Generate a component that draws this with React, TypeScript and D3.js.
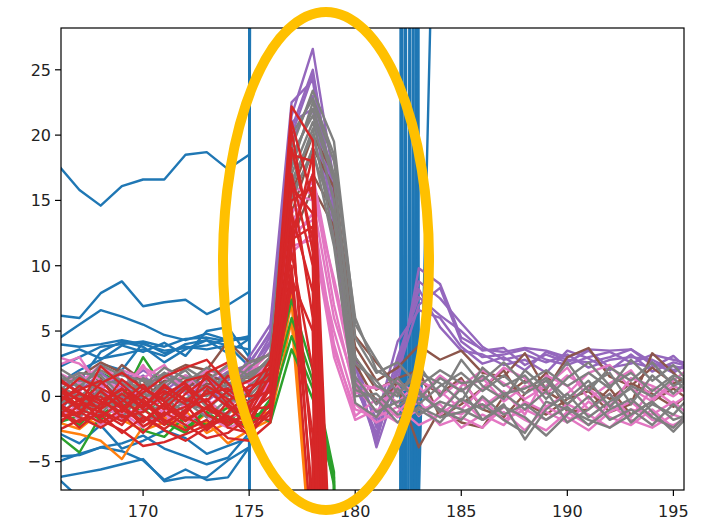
import React from "react";
import * as d3 from "d3";

// x index of first value in every series
const START = 166;

const xTicks = [170, 175, 180, 185, 190, 195];
const yTicks = [-5, 0, 5, 10, 15, 20, 25];

// tab:blue – values 166..184 (off-scale values between 176 and 184)
const blueSeries: number[][] = [
  [17.7, 15.8, 14.6, 16.1, 16.6, 16.6, 18.5, 18.7, 17.4, 18.5, 900, 950, 1000, 980, 950, 920, 900, -300, -900],
  [6.2, 6.0, 7.9, 8.8, 6.9, 7.2, 7.4, 6.3, 7.0, 8.0, 800, 850, 900, 870, 820, 800, 600, -900, -950],
  [4.4, 5.5, 6.6, 6.1, 5.5, 4.7, 4.3, 4.8, 4.3, 4.4, -800, -850, -900, -870, -820, -760, -700, 300, 900],
  [2.2, 3.0, 3.8, 4.0, 4.2, 3.8, 4.4, 4.5, 4.2, 4.6, 800, 880, 920, 900, 950, 1000, 1000, -120, -900],
  [1.0, 2.0, 2.8, 3.9, 3.4, 4.1, 3.1, 5.0, 5.3, 3.0, -900, -950, -880, -800, -700, -500, -400, 800, 900],
  [-1.2, 0.6, 2.5, 2.0, 4.1, 3.3, 3.8, 3.6, 3.9, 2.3, 900, 850, 800, 700, 500, 400, 300, -900, -900],
  [-5.0, -4.4, -3.9, -3.6, -3.0, -4.0, -4.6, -5.2, -4.7, -2.8, -900, -850, -700, -500, -300, -200, -150, 1000, 900],
  [-6.2, -5.9, -5.6, -5.2, -4.8, -6.5, -6.2, -6.2, -4.9, -3.9, 900, 950, 900, 880, 850, 820, 800, -500, -900],
  [-6.3, -7.8, -8.5, -8.8, -8.6, -8.9, -8.0, -8.2, -7.9, -7.5, -900, -950, -920, -900, -900, -900, -900, 200, 900],
  [3.0, 3.6, 2.9, 3.2, 3.6, 3.1, 4.0, 4.3, 3.3, 4.4, 800, 700, 600, 500, 400, 300, 200, -1000, -900],
  [-4.6, -4.5, -3.9, -4.2, -4.9, -6.4, -5.6, -6.4, -6.2, -3.9, -800, -900, -950, -900, -800, -600, -550, 500, 900],
  [4.0, 3.8, 4.0, 4.3, 4.0, 3.5, 3.7, 3.9, 4.4, 4.5, 900, 1000, 1100, 1200, 1300, 1400, 1500, -8, 60],
  [0.2, 1.2, 3.4, 4.2, 3.8, 2.6, 3.6, 4.3, 3.9, 3.6, 700, 650, 600, 550, 520, 500, 500, -700, -900],
  [-2.8, -3.6, -2.2, -4.0, -3.4, -2.6, -3.2, -4.4, -3.8, -3.2, -900, -950, -1000, -1000, -1000, -1000, -1000, 60, 900],
];

// tab:orange – values 166..179
const orangeSeries: number[][] = [
  [-2.6, -2.9, -3.4, -4.8, -2.3, -1.6, -2.4, -2.0, -3.6, -2.6, -1.8, 5.8, -14, -500],
  [-2.0, -2.5, -1.2, -1.8, -2.6, -2.0, -1.1, -2.8, -2.0, -1.5, -1.2, 7.2, -13, -500],
  [-1.0, -1.6, -2.2, -1.0, -0.5, -1.8, -2.6, -1.3, -0.9, -2.2, -0.5, 8.0, -12, -500],
];

// tab:green – values 166..180
const greenSeries: number[][] = [
  [-3.0, -4.3, -1.5, -0.2, 3.0, 0.6, -2.4, -1.2, -2.3, -1.0, -2.0, 3.6, -0.2, -6.5, -500],
  [-2.0, -1.5, 1.8, 1.0, -2.6, -3.1, -1.5, -2.2, -0.8, -1.8, -0.8, 4.6, 0.6, -6.8, -500],
  [-1.2, -2.2, -0.5, -1.6, -1.0, -2.0, -2.8, -0.8, -1.5, -2.4, -0.2, 6.0, 1.2, -6.2, -500],
  [0.5, -0.8, -1.8, -0.5, -1.2, -0.2, 0.8, -1.6, -2.0, -0.5, 0.5, 7.4, 2.0, -5.8, -500],
];

// tab:red – values 166..179
const redSeries: number[][] = [
  [0.5, -0.8, 2.3, 0.9, -0.5, -1.5, 0.2, 1.4, -0.6, -1.8, 0.8, 22.2, 19.6, -20],
  [-1.5, -0.2, -1.8, -2.6, -3.8, -3.5, -2.9, -2.2, -1.5, -3.0, -1.0, 21.0, 15.0, -40],
  [-0.5, 0.8, -0.4, -1.2, 0.3, 1.5, 2.2, 2.8, 1.0, -0.8, 1.5, 20.3, 11.0, -45],
  [-1.2, -2.0, -0.6, 0.6, -1.0, -2.2, -1.0, -0.2, -2.4, -2.8, -0.5, 18.5, 18.0, -25],
  [0.2, -1.0, -1.6, -0.4, 0.9, -0.8, -1.9, -0.9, 0.4, 1.2, 2.2, 17.0, 10.0, -60],
  [-1.9, -1.2, 0.4, -0.8, -1.9, -0.5, 0.8, -1.4, -2.2, -1.2, 0.0, 16.0, 14.0, -35],
  [1.2, 0.3, -1.1, -1.9, -0.6, 0.4, -0.6, -2.6, -1.2, 0.2, 2.8, 15.0, 16.0, -30],
  [-0.8, -1.6, -2.4, -1.4, -2.8, -1.2, -2.2, -3.2, -2.8, -1.6, -1.8, 14.0, 8.0, -50],
  [0.0, 1.4, 0.6, -0.2, -1.5, -2.5, -1.3, 0.5, -0.8, -2.2, 1.0, 13.0, -5.0, -1000],
  [-2.2, -0.6, -1.2, -2.2, -0.2, -1.8, -2.6, -1.8, -3.2, -3.4, -2.0, 9.5, -12.0, -1000],
  [0.8, -0.4, -0.9, 1.3, 0.0, -1.0, 0.6, -0.4, 1.6, 0.4, 1.8, 12.0, 13.0, -40],
  [-1.0, -2.4, -1.0, 0.2, -0.9, 0.7, -0.2, -1.0, -1.8, -0.4, 0.5, 11.0, 2.0, -100],
  [-0.3, 0.5, 1.2, -0.6, -2.3, -1.4, -0.8, 0.2, 0.6, -1.0, -0.8, 10.0, -8.0, -1000],
  [-1.6, -1.2, -2.0, -1.0, 0.6, -0.4, -1.6, -2.4, -0.4, 0.8, 1.2, 9.0, 5.0, -80],
  [0.4, -0.2, 0.0, -1.6, -1.2, 0.2, 1.0, -0.6, -1.6, -2.6, -1.4, 8.5, -3.0, -1000],
  [-0.9, 0.2, -0.3, 0.5, -0.4, -2.0, -1.2, 1.8, 2.6, 0.0, 0.3, 12.5, 17.0, -28],
  [-0.6, -1.4, 0.4, -1.0, -2.0, -0.6, -1.8, -0.8, -2.0, -1.4, 1.6, 19.0, 12.0, -35],
  [1.4, 0.2, -0.6, 0.6, -0.8, 0.9, -0.4, 0.8, -0.2, -2.0, 0.6, 16.5, 6.0, -70],
  [-2.6, -1.8, -1.4, -2.8, -1.6, -2.6, -3.4, -2.4, -1.6, -2.2, -1.2, 11.5, 18.5, -22],
  [0.0, -0.6, 1.0, 1.8, 0.6, -0.2, 1.2, 1.6, 0.2, -1.0, 2.4, 14.5, -10.0, -1000],
];

// tab:purple – values 166..196
const purpleSeries: number[][] = [
  [0.8, 1.5, 0.5, 1.8, 1.2, 0.4, 1.6, 0.8, 1.9, 2.4, 5.0, 21.5, 26.6, 16.5, 2.5, -3.9, 1.0, 9.8, 8.6, 4.5, 3.6, 3.4, 3.7, 3.5, 3.0, 3.6, 3.5, 3.6, 2.4, 2.3, 2.0],
  [-0.5, 0.6, 1.2, -0.2, 0.8, 1.6, 0.2, -0.4, 0.9, 1.8, 4.6, 20.5, 25.0, 15.0, 1.5, -3.2, 2.0, 8.8, 7.5, 5.6, 3.8, 2.8, 3.2, 2.6, 3.2, 2.2, 2.8, 3.0, 2.8, 2.0, 2.6],
  [1.6, 0.2, -0.6, 0.8, 2.0, 1.0, -0.4, 1.4, 0.2, 3.0, 5.5, 22.5, 24.2, 14.0, 3.0, -2.4, 3.0, 7.6, 6.2, 5.0, 3.5, 3.7, 2.4, 3.2, 2.6, 3.5, 2.2, 2.5, 3.2, 2.8, 2.4],
  [0.2, -0.8, 0.9, 1.2, -0.6, -0.2, 1.0, 0.6, -0.5, 2.0, 4.2, 19.5, 23.0, 13.0, 0.8, -2.8, 1.8, 7.0, 8.3, 4.2, 3.0, 3.2, 3.6, 2.8, 2.4, 3.0, 3.4, 2.6, 2.2, 3.1, 1.6],
  [1.0, 1.8, 0.4, -0.4, 0.4, 1.8, 0.8, 1.6, 1.2, 2.6, 4.8, 21.0, 22.0, 12.0, 2.2, -1.8, 4.2, 6.6, 6.0, 3.8, 2.5, 3.0, 2.0, 3.4, 2.8, 2.6, 3.0, 3.6, 2.6, 1.8, 2.8],
  [-0.2, 0.4, 1.8, 0.6, 1.6, 0.2, -0.8, 0.2, 1.6, 1.4, 4.0, 20.0, 24.6, 15.5, 1.2, -3.5, 2.6, 8.2, 5.3, 3.5, 3.2, 2.4, 2.8, 1.8, 3.5, 2.9, 2.0, 3.2, 1.9, 2.6, 2.2],
];

// tab:brown – values 166..196
const brownSeries: number[][] = [
  [1.0, 1.5, 2.6, 1.8, 0.8, 1.6, 2.4, 2.0, 4.2, 2.6, 3.2, 14.0, 19.0, 16.0, 4.6, 2.6, 0.7, -3.9, -1.0, -2.0, -2.4, 0.0, 1.2, 0.4, -0.6, 0.8, -0.2, 1.0, 0.2, -0.8, 0.6],
  [0.0, -0.8, 0.6, 2.4, 1.2, -0.4, 0.5, 1.8, 0.9, 1.5, 2.5, 13.0, 17.0, 14.0, 3.8, 1.2, 2.2, 3.9, 2.8, 3.5, 1.8, 1.5, 3.3, 0.5, 3.0, 3.7, 1.5, 0.8, 2.2, 1.0, 1.6],
  [-0.6, 0.2, -1.0, 0.4, -0.2, 1.2, 1.4, 0.6, -0.8, 0.4, 2.0, 15.5, 20.0, 17.0, 3.0, 0.5, 1.4, 2.0, -1.6, -0.6, 0.6, 2.0, -0.5, -1.4, -0.2, 0.4, -1.2, -0.6, 3.3, 1.8, 0.2],
  [0.6, -0.3, 1.4, -0.6, 0.4, 0.2, -0.6, 1.0, 0.4, -0.4, 1.6, 12.0, 16.0, 13.0, 2.5, -0.4, 0.8, 1.2, 0.2, 1.4, -1.0, -1.6, 0.2, 1.8, -1.2, -1.0, 0.6, -1.4, -0.4, 0.6, -0.6],
];

// tab:pink – values 166..196
const pinkSeries: number[][] = [
  [3.0, 2.5, 1.2, 0.6, 2.2, 1.4, 0.8, 2.0, 1.5, 1.0, 2.8, 14.0, 16.5, 7.0, 0.2, 0.8, -0.5, 1.2, 0.4, -1.0, 0.6, 2.2, 1.4, -0.8, 0.2, 1.8, 2.4, 0.6, -0.4, 1.2, 2.5],
  [-0.8, 0.4, -1.6, -0.6, 0.5, -1.4, -2.2, -0.8, 0.4, -0.6, 1.5, 12.0, 14.0, 4.0, -1.5, -0.2, -1.6, -0.4, -2.2, -1.6, -2.4, -0.8, -1.8, -2.6, -1.2, -2.2, -0.6, -1.8, -2.4, -1.4, -2.0],
  [1.8, 1.0, 2.4, 1.2, -0.2, 0.8, 1.6, 0.4, -0.8, 0.6, 2.2, 15.5, 15.0, 6.0, 0.8, -1.2, 0.8, -1.5, 0.0, 1.2, -0.8, 0.4, -1.4, 1.6, 0.8, -1.0, 0.2, -1.6, 0.6, -0.6, 0.4],
  [0.2, -1.2, -0.4, -1.8, -1.0, -0.2, 0.6, -1.6, -2.4, -1.8, 1.0, 11.0, 12.5, 3.0, -1.8, -1.0, -2.0, -1.0, -0.6, -2.4, -1.4, -2.2, -0.4, -1.2, -2.0, -0.4, -1.6, -2.2, -1.0, -2.4, -0.8],
  [2.4, 3.0, 0.6, 2.0, 1.4, 2.4, 0.2, 1.2, 2.2, 1.8, 3.4, 13.0, 17.0, 8.5, 1.0, 0.6, 1.2, 0.0, 1.6, 0.4, 1.4, -0.4, 0.8, 0.2, 1.6, 0.6, -0.8, 1.4, 0.8, 0.0, 1.2],
  [-1.6, -0.6, -2.2, -1.2, -2.4, -1.0, -1.4, -2.6, -1.2, -0.4, 0.6, 12.5, 13.5, 3.5, -1.0, -1.6, -0.8, -2.2, -1.4, -0.2, -1.8, -1.2, -2.6, -0.8, -1.6, -2.6, -1.2, -0.4, -1.8, -2.2, -1.4],
  [0.8, 1.8, -0.2, 0.4, 2.4, 0.0, -0.8, 0.8, 0.6, 2.4, 2.0, 16.0, 15.5, 9.0, 1.5, -0.6, 0.4, 0.8, -1.2, 0.8, 2.0, 1.0, -0.2, 0.8, 2.2, -0.2, 1.0, 2.0, -0.2, 0.8, 0.0],
  [-0.4, -1.8, 0.8, -0.8, -1.6, -2.0, -0.6, -0.2, -1.6, -1.2, 1.2, 11.5, 12.0, 5.0, -0.6, -2.0, -1.2, 0.4, -1.0, -1.4, -0.2, -1.8, -1.0, -1.8, -0.6, -1.4, -2.4, -1.0, -1.4, -0.4, -1.8],
];

// tab:gray – values 166..196
const graySeries: number[][] = [
  [1.5, 0.8, 2.0, 1.2, 0.6, 1.8, 1.0, 2.2, 1.4, 2.6, 3.2, 19.0, 23.4, 19.5, 5.5, 2.8, 0.2, 1.8, 1.0, -0.4, 2.2, 0.8, 1.6, -0.2, 1.4, 2.6, 0.8, 1.8, 0.4, 1.6, 1.0],
  [0.4, 1.6, 0.2, -0.6, 1.4, 0.4, -0.2, 0.8, 0.0, 1.8, 2.6, 18.0, 22.0, 17.0, 2.5, 1.2, -0.8, 0.4, -1.2, 0.6, -1.8, -0.6, -3.3, -1.0, 0.2, -1.6, -0.4, 0.6, -1.2, -2.7, -1.0],
  [2.2, 1.2, 1.0, 2.0, -0.2, 1.0, 2.0, 0.2, 1.8, 1.4, 3.0, 17.0, 21.0, 15.0, 1.5, -0.6, 1.4, -0.6, 0.8, 1.8, 0.4, 1.6, 0.2, 1.2, -0.6, 0.8, 1.8, -0.6, 1.6, 0.2, 1.8],
  [-0.6, 0.2, -1.4, 0.6, -1.0, -0.8, 0.8, -0.8, -1.4, 0.4, 2.0, 16.0, 20.5, 12.0, -0.5, -1.6, 0.6, -1.4, -0.4, -1.0, -1.8, -0.8, -1.6, -3.0, -1.4, 0.0, -1.8, -1.0, -2.2, -0.6, -2.2],
  [1.0, 1.8, 1.6, 0.0, 0.8, 2.2, 1.4, 1.6, 0.6, 2.2, 3.3, 20.0, 22.8, 18.5, 4.5, 1.8, 2.6, 0.8, 2.0, 1.0, 1.2, 2.6, 1.0, 2.0, 0.8, 1.8, 0.6, 2.8, 1.2, 2.4, 0.6],
  [0.0, -1.0, 0.6, -1.6, 0.2, -0.2, -1.2, 0.4, -0.6, 0.8, 2.2, 15.0, 19.0, 11.5, 0.0, 0.2, -1.4, -1.0, -2.0, -0.2, -1.0, 0.2, -1.0, 0.4, -2.0, -1.0, 0.2, -2.0, -0.6, -1.4, 0.4],
  [1.8, 0.6, 2.4, 1.6, 1.2, 0.6, 2.2, 1.2, 2.4, 1.6, 2.8, 18.5, 21.5, 16.5, 3.0, 0.8, 0.0, 2.4, 0.0, 2.8, 0.8, -0.2, 2.0, 0.6, 2.6, 0.4, 2.2, 1.2, 2.6, 0.8, 1.6],
  [-1.4, -0.2, -0.8, 0.2, -1.8, -1.4, -0.4, -1.6, -0.2, -0.6, 1.6, 16.5, 20.0, 13.5, 1.0, -1.2, -0.4, 0.2, -1.0, -1.8, 0.0, -1.4, -0.6, -1.8, -0.8, -2.2, -1.0, -0.2, -1.6, -2.4, -0.8],
  [0.8, 0.0, 1.2, 1.0, 0.2, 1.6, 0.4, 0.0, 1.0, 1.2, 3.0, 17.5, 22.5, 18.0, 6.0, 2.0, 1.0, -0.2, 1.4, 0.4, 1.6, 0.2, 0.6, 1.4, -0.2, 1.2, -0.8, 0.8, 0.0, 1.4, -0.2],
  [-0.8, -1.6, 0.0, -0.8, -0.6, 0.0, -0.6, -1.0, 0.4, 0.0, 1.8, 15.5, 18.5, 14.0, 0.5, -0.2, -2.0, -0.8, -1.6, -1.2, -0.6, -1.8, -2.8, -0.4, -1.0, -1.8, -2.4, -1.4, -0.4, -1.8, -1.2],
];

const W = 704;
const H = 522;
const left = 61;
const right = 684;
const top = 28;
const bottom = 490;

const x = d3.scaleLinear().domain([166.13, 195.5]).range([left, right]);
const y = d3.scaleLinear().domain([-7.17, 28.2]).range([bottom, top]);

const line = d3
  .line<number>()
  .x((_, i) => x(START + i))
  .y((d) => y(d));

const groups: { color: string; series: number[][] }[] = [
  { color: "#1f77b4", series: blueSeries },
  { color: "#ff7f0e", series: orangeSeries },
  { color: "#2ca02c", series: greenSeries },
  { color: "#9467bd", series: purpleSeries },
  { color: "#8c564b", series: brownSeries },
  { color: "#e377c2", series: pinkSeries },
  { color: "#7f7f7f", series: graySeries },
  { color: "#d62728", series: redSeries },
];

const font = "'DejaVu Sans', sans-serif";

export default function App() {
  return (
    <svg
      width={W}
      height={H}
      style={{ position: "absolute", left: 0, top: 0, background: "#fff" }}
    >
      <defs>
        <clipPath id="plot">
          <rect x={left} y={top} width={right - left} height={bottom - top} />
        </clipPath>
      </defs>
      <rect x={0} y={0} width={W} height={H} fill="#fff" />
      <g clipPath="url(#plot)">
        {groups.map((g, gi) =>
          g.series.map((s, si) => (
            <path
              key={`${gi}-${si}`}
              d={line(s) || ""}
              fill="none"
              stroke={g.color}
              strokeWidth={2.4}
              strokeLinejoin="round"
            />
          ))
        )}
      </g>
      <rect
        x={left}
        y={top}
        width={right - left}
        height={bottom - top}
        fill="none"
        stroke="#000"
        strokeWidth={1.2}
      />
      {yTicks.map((t) => (
        <g key={`y${t}`}>
          <line x1={left - 6} x2={left} y1={y(t)} y2={y(t)} stroke="#000" strokeWidth={1.2} />
          <text
            x={left - 10}
            y={y(t) + 5.8}
            textAnchor="end"
            fontFamily={font}
            fontSize={16}
            fill="#222"
          >
            {t < 0 ? `\u2212${Math.abs(t)}` : t}
          </text>
        </g>
      ))}
      {xTicks.map((t) => (
        <g key={`x${t}`}>
          <line x1={x(t)} x2={x(t)} y1={bottom} y2={bottom + 6} stroke="#000" strokeWidth={1.2} />
          <text
            x={x(t)}
            y={517}
            textAnchor="middle"
            fontFamily={font}
            fontSize={16}
            fill="#222"
          >
            {t}
          </text>
        </g>
      ))}
      <ellipse cx={326} cy={261} rx={103} ry={249} fill="none" stroke="#FFC000" strokeWidth={10} />
    </svg>
  );
}
